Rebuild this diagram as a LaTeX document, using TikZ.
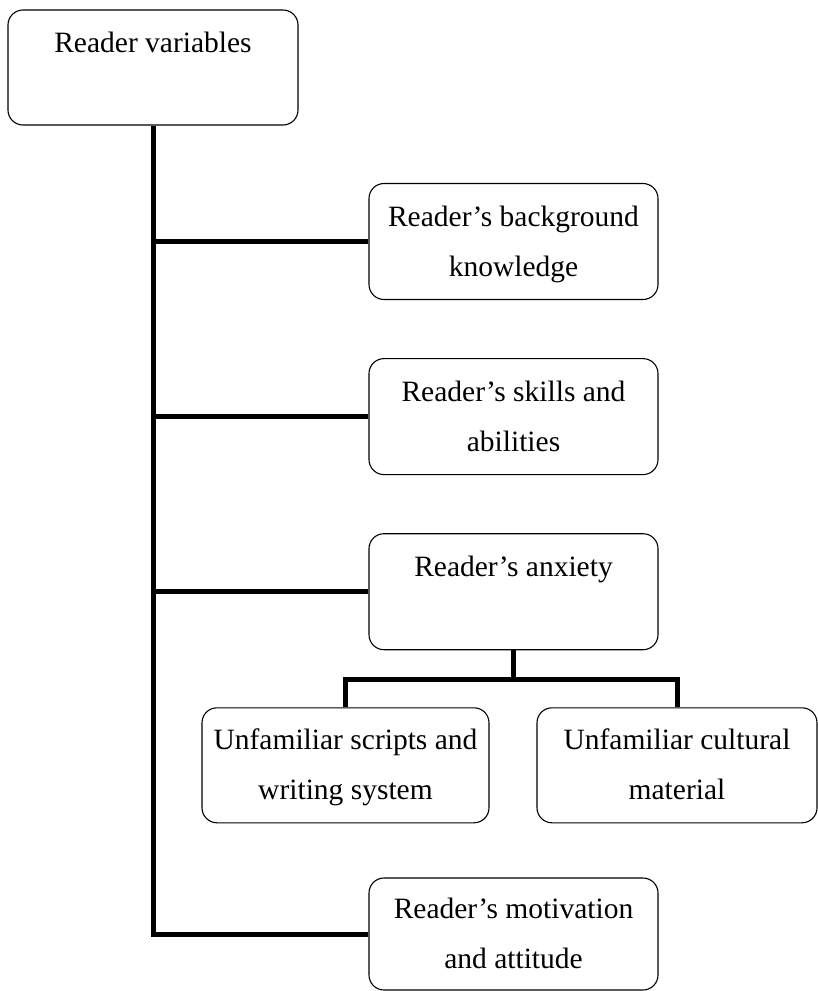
\documentclass[tikz,border=0pt]{standalone}
\usepackage{fontspec}
\setmainfont{Liberation Serif}
\usetikzlibrary{positioning}

\begin{document}
\begin{tikzpicture}[
    x=1pt, y=-1pt,
    node distance=58pt and 48pt,
    box/.style={rectangle, rounded corners=15pt, draw=black, line width=1.1pt, minimum width=289pt, minimum height=116pt, inner sep=0pt, align=center, text height=76pt, text depth=7pt, font=\fontsize{29.5}{50}\selectfont},
    single/.style={text height=26pt, text depth=57pt},
    link/.style={line width=5pt}
]
\useasboundingbox (0,0) rectangle (818,991);

\node[box, single, minimum width=290pt, minimum height=115pt] (root) at (153,67.5) {Reader variables};

\node[box] (bg) at (513.5,241.5) {Reader’s background\\knowledge};
\node[box, below=of bg] (skills) {Reader’s skills and\\abilities};
\node[box, single, below=of skills] (anx) {Reader’s anxiety};

\node[box, minimum width=287pt, minimum height=115pt, below=57pt of anx, xshift=-168pt] (kid1) {Unfamiliar scripts and\\writing system};
\node[box, minimum width=280pt, minimum height=115pt, below=57pt of anx, xshift=163.5pt] (kid2) {Unfamiliar cultural\\material};

\node[box, minimum height=112pt] (motiv) at (513.5,934) {Reader’s motivation\\and attitude};

% trunk and branches
\draw[link] (root.south) |- (motiv.west);
\foreach \n in {bg,skills,anx}
    \draw[link] (root.south |- \n.west) -- (\n.west);

\draw[link] (anx.south) -- ++(0,29) coordinate (fork);
\draw[link] (kid1.north) |- (fork) -| (kid2.north);
\end{tikzpicture}
\end{document}
